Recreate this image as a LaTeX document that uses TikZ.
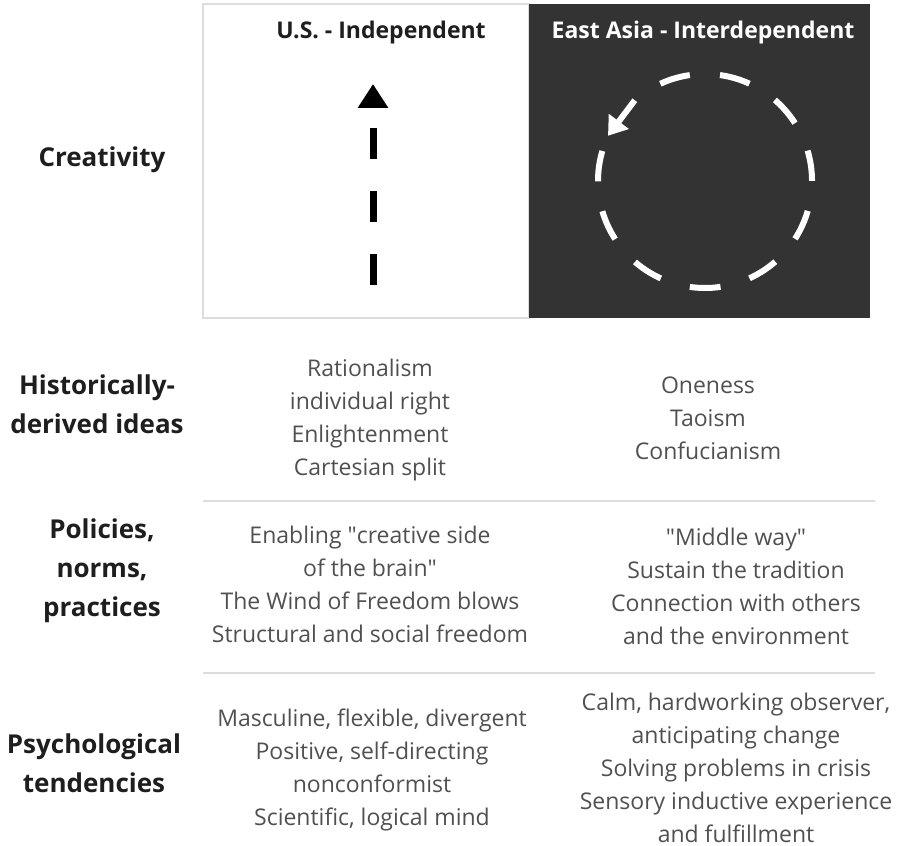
\documentclass[tikz,border=0pt]{standalone}
\usepackage{fontspec}
\setmainfont{Open Sans}
\usepackage{xcolor}
\usetikzlibrary{arrows.meta,positioning,calc}
\definecolor{panelgray}{HTML}{333333}
\definecolor{bodygray}{HTML}{505050}
\definecolor{rulegray}{HTML}{DDDDDD}
\definecolor{labelgray}{HTML}{1E1E1E}
\newcommand{\dq}{\textquotedbl}

\begin{document}
\begin{tikzpicture}[x=1pt,y=1pt]
\tikzset{rowlabel/.style={align=center,text=labelgray,
  font=\bfseries\fontsize{26}{39}\selectfont}}
\tikzset{cell/.style={align=center,text=bodygray,
  font=\fontsize{23}{33}\selectfont}}
\tikzset{colhead/.style={font=\bfseries\fontsize{23}{27}\selectfont}}
\tikzset{sep/.style={draw=rulegray,line width=2pt}}
\tikzset{uparrow/.style={line width=7pt,dash pattern=on 31pt off 32pt,
  -{Triangle[width=29pt,length=24pt]}}}
\tikzset{ring/.style={white,line width=6pt,dash pattern=on 30.8pt off 30.3pt}}
\tikzset{ringarrow/.style={white,line width=6pt,
  -{Triangle[width=24pt,length=18pt]}}}
\useasboundingbox (0,0) rectangle (898,846);

% top panels
\draw[rulegray,line width=1.5pt,fill=white] (203,528) rectangle (529,842);
\fill[panelgray] (529,528) rectangle (870,842);
\node[colhead,text=labelgray] (us) at (381,813) {U.S. - Independent};
\node[colhead,text=white] (ea) at (703,813) {East Asia - Interdependent};

% straight line upward
\coordinate (usbot) at (373,561);
\coordinate (ustop) at (373,762);
\draw[uparrow] (usbot) -- (ustop);

% dashed cycle
\coordinate (cc) at (705,665);
\draw[ring] ([shift={(163.7:107pt)}]cc) arc[start angle=163.7,delta angle=311,radius=107pt];
\coordinate (ca) at ([shift={(131:107pt)}]cc);
\coordinate (cb) at ([shift={(155:107pt)}]cc);
\draw[ringarrow] (ca) -- (cb);

% row labels
\node[rowlabel] (creat) at (102,686) {Creativity};
\node[rowlabel] (hist) at (97,442) {Historically-\\derived ideas};
\node[rowlabel] (pol) at (102,275) {Policies,\\norms,\\practices};
\node[rowlabel] (psy) at (94,83) {Psychological\\tendencies};

% separators
\draw[sep] (203,345) -- (875,345);
\draw[sep] (203,173) -- (875,173);

% cells
\node[cell] (histus) at (370,426) {Rationalism\\individual right\\Enlightenment\\Cartesian split};
\node[cell] (histea) at (708,428) {Oneness\\Taoism\\Confucianism};
\node[cell] (polus) at (370,262) {Enabling \dq creative side\\of the brain\dq\\The Wind of Freedom blows\\Structural and social freedom};
\node[cell] (polea) at (736,260) {\dq Middle way\dq\\Sustain the tradition\\Connection with others\\and the environment};
\node[cell] (psyus) at (372,76) {Masculine, flexible, divergent\\Positive, self-directing\\nonconformist\\Scientific, logical mind};
\node[cell] (psyea) at (736,78) {Calm, hardworking observer,\\anticipating change\\Solving problems in crisis\\Sensory inductive experience\\and fulfillment};
\end{tikzpicture}
\end{document}
